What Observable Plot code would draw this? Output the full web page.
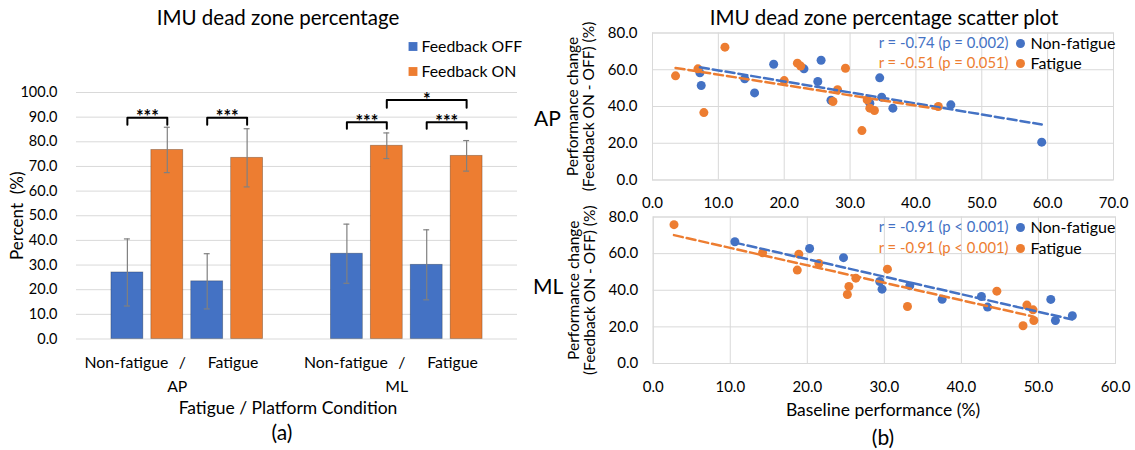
<!DOCTYPE html>
<html><head><meta charset="utf-8">
<script src="https://cdn.jsdelivr.net/npm/d3@7"></script>
<script src="https://cdn.jsdelivr.net/npm/@observablehq/plot@0.6"></script>
<style>
html,body{margin:0;padding:0;background:#fff;}
#root{position:relative;width:1135px;height:450px;overflow:hidden;font-family:Lato,sans-serif;color:#000;background:#fff;}
.abs{position:absolute;}
.lbl{position:absolute;transform:translate(-50%,-50%);white-space:nowrap;line-height:1;font-family:Lato,sans-serif;color:#000;}
</style></head><body><div id="root"></div>
<script>
// ---------- data ----------
const platforms = ["AP", "ML"];
const fatigueLevels = ["Non-fatigue", "Fatigue"];
const feedbackLevels = ["Feedback OFF", "Feedback ON"];
// order: AP NF OFF, AP NF ON, AP F OFF, AP F ON, ML NF OFF, ML NF ON, ML F OFF, ML F ON
const meanPct = [27.0, 76.7, 23.4, 73.5, 34.6, 78.4, 30.1, 74.3];
const sdPct   = [13.6, 9.2, 11.2, 11.8, 12.0, 5.2, 14.2, 6.2];
const yTicksBar = [0, 10, 20, 30, 40, 50, 60, 70, 80, 90, 100];

// significance brackets
const sigLabels   = ["***", "***", "***", "***", "*"];
const sigPlatform = ["AP", "AP", "ML", "ML", "ML"];
const sigFromFat  = ["Non-fatigue", "Fatigue", "Non-fatigue", "Fatigue", "Non-fatigue"];
const sigFromFb   = ["Feedback OFF", "Feedback OFF", "Feedback OFF", "Feedback OFF", "Feedback ON"];
const sigToFat    = ["Non-fatigue", "Fatigue", "Non-fatigue", "Fatigue", "Fatigue"];
const sigToFb     = ["Feedback ON", "Feedback ON", "Feedback ON", "Feedback ON", "Feedback ON"];
const sigTop      = [89.8, 89.8, 87.9, 87.9, 97.0];
const sigLeg      = [86.9, 86.9, 85.3, 85.3, 93.8];

const xLabelWords = ["Non-fatigue", "/", "Fatigue"];

// scatter data
const groups = ["Non-fatigue", "Fatigue"];
const apNfX = [7.2, 7.4, 14.0, 15.5, 18.4, 23.0, 25.1, 25.6, 27.1, 33.0, 34.5, 34.8, 36.5, 45.3, 59.1];
const apNfY = [58.3, 51.4, 55.1, 47.4, 63.0, 60.5, 53.6, 65.2, 43.4, 41.8, 55.6, 45.1, 39.1, 40.9, 20.6];
const apFX  = [3.5, 6.9, 7.8, 11.0, 20.0, 22.0, 22.5, 27.4, 28.1, 29.3, 31.8, 32.6, 33.0, 33.7, 43.4];
const apFY  = [56.7, 60.5, 36.7, 72.3, 54.1, 63.6, 62.0, 42.7, 49.1, 60.8, 26.9, 43.6, 39.1, 37.8, 40.0];
const mlNfX = [10.6, 20.3, 24.7, 29.4, 29.7, 33.3, 37.5, 42.6, 43.4, 51.6, 52.2, 54.4];
const mlNfY = [66.5, 62.8, 57.8, 44.8, 40.6, 42.5, 35.1, 36.6, 30.8, 35.0, 23.5, 26.1];
const mlFX  = [2.7, 14.2, 18.7, 18.9, 21.5, 25.2, 25.4, 26.3, 30.4, 33.0, 44.6, 48.0, 48.5, 49.3, 49.4];
const mlFY  = [75.8, 60.5, 51.0, 59.7, 54.6, 37.7, 42.1, 46.6, 51.5, 31.1, 39.5, 20.6, 31.9, 29.3, 23.5];
const apStats = ["r = -0.74 (p = 0.002)", "r = -0.51 (p = 0.051)"];
const mlStats = ["r = -0.91 (p < 0.001)", "r = -0.91 (p < 0.001)"];
const apXTicks = [0, 10, 20, 30, 40, 50, 60, 70];
const mlXTicks = [0, 10, 20, 30, 40, 50, 60];
const scatterYTicks = [0, 20, 40, 60, 80];

const titleA = "IMU dead zone percentage";
const titleB = "IMU dead zone percentage scatter plot";
const yLabelBar = "Percent  (%)";
const xLabelBar = "Fatigue / Platform Condition";
const yLabelScatter = ["Performance change", "(Feedback ON - OFF) (%)"];
const xLabelScatter = "Baseline performance (%)";

// ---------- styling ----------
const BLUE = "#4472C4", ORANGE = "#ED7D31", GRID = "#d9d9d9", ERR = "#808080";
const root = document.getElementById("root");
const fmt = d3.format(".1f");
function place(el, left, top) {
  const d = document.createElement("div");
  d.className = "abs"; d.style.left = left + "px"; d.style.top = top + "px";
  d.appendChild(el); root.appendChild(d);
}
function label(text, cx, cy, size) {
  const d = document.createElement("div");
  d.className = "lbl"; d.textContent = text;
  d.style.left = cx + "px"; d.style.top = cy + "px"; d.style.fontSize = size + "px";
  root.appendChild(d);
}
const baseStyle = {fontFamily: "Lato, sans-serif", fontSize: "14.5px", color: "#000", background: "transparent", overflow: "visible"};

// ---------- left: bar chart ----------
const keyOf = (f, fb) => f + "|" + fb;
const xKeys = fatigueLevels.flatMap(f => feedbackLevels.map(fb => keyOf(f, fb)));
const barRows = [];
platforms.forEach((p, pi) => fatigueLevels.forEach((f, fi) => feedbackLevels.forEach((fb, bi) => {
  const i = pi * 4 + fi * 2 + bi;
  barRows.push({platform: p, fatigue: f, feedback: fb, key: keyOf(f, fb), mean: meanPct[i], sd: sdPct[i]});
})));
const sigRows = sigLabels.map((lab, i) => {
  const from = keyOf(sigFromFat[i], sigFromFb[i]), to = keyOf(sigToFat[i], sigToFb[i]);
  return {id: i, label: lab, platform: sigPlatform[i], from, to, top: sigTop[i], leg: sigLeg[i],
          span: xKeys.indexOf(to) - xKeys.indexOf(from)};
});
const bracketPts = sigRows.flatMap(r => [
  {id: r.id, platform: r.platform, key: r.from, y: r.leg},
  {id: r.id, platform: r.platform, key: r.from, y: r.top},
  {id: r.id, platform: r.platform, key: r.to, y: r.top},
  {id: r.id, platform: r.platform, key: r.to, y: r.leg}
]);

const W1 = 560, H1 = 450;
const M1 = {marginTop: 92, marginRight: 43, marginBottom: 111.5, marginLeft: 76};

const bg = Plot.plot({
  width: W1, height: H1, ...M1,
  style: baseStyle,
  y: {domain: [0, 100], ticks: yTicksBar, tickFormat: fmt, tickSize: 0, tickPadding: 19, label: null},
  marks: [
    Plot.ruleY(yTicksBar, {stroke: GRID, strokeWidth: 1}),
    Plot.text([yLabelBar], {text: d => d, frameAnchor: "left", textAnchor: "middle", lineAnchor: "middle", rotate: -90, dx: -59, fontSize: 17}),
    // legend
    ...feedbackLevels.map((fb, i) => Plot.dot([fb], {frameAnchor: "top-left", dx: 336.5, dy: -46 + 25 * i, symbol: "square", r: 5, fill: [BLUE, ORANGE][i]})),
    ...feedbackLevels.map((fb, i) => Plot.text([fb], {text: d => d, frameAnchor: "top-left", textAnchor: "start", lineAnchor: "middle", dx: 345, dy: -46 + 25 * i, fontSize: 15.8}))
  ]
});
place(bg, 0, 0);

const fg = Plot.plot({
  width: W1, height: H1, ...M1,
  style: baseStyle,
  fx: {domain: platforms, paddingInner: 0.2727, paddingOuter: 0.1409, axis: null, round: false},
  x: {domain: xKeys, paddingInner: 0.2, paddingOuter: 0.1, axis: null, round: false},
  y: {domain: [0, 100], axis: null},
  color: {domain: feedbackLevels, range: [BLUE, ORANGE]},
  marks: [
    Plot.barY(barRows, {fx: "platform", x: "key", y: "mean", fill: "feedback", stroke: "#000", strokeOpacity: 0.3, strokeWidth: 0.8}),
    Plot.ruleX(barRows, {fx: "platform", x: "key", y1: d => d.mean - d.sd, y2: d => d.mean + d.sd, stroke: ERR, strokeWidth: 1.2}),
    Plot.tickY(barRows, {fx: "platform", x: "key", y: d => d.mean + d.sd, stroke: ERR, strokeWidth: 1.2, insetLeft: 13, insetRight: 13}),
    Plot.tickY(barRows, {fx: "platform", x: "key", y: d => d.mean - d.sd, stroke: ERR, strokeWidth: 1.2, insetLeft: 13, insetRight: 13}),
    Plot.line(bracketPts, {fx: "platform", x: "key", y: "y", z: "id", stroke: "#000", strokeWidth: 2}),
    ...sigRows.map(r => Plot.text([r], {fx: "platform", x: "from", y: "top", text: "label", dx: r.span * 20, lineAnchor: "middle", fontSize: 18, fontWeight: "bold"})),
    // category labels
    Plot.text(platforms, {fx: d => d, x: () => keyOf("Non-fatigue", "Feedback OFF"), text: () => xLabelWords[0], frameAnchor: "bottom", textAnchor: "middle", lineAnchor: "top", dy: 18, dx: -1, fontSize: 15.8}),
    Plot.text(platforms, {fx: d => d, x: () => keyOf("Non-fatigue", "Feedback ON"), text: () => xLabelWords[1], frameAnchor: "bottom", textAnchor: "middle", lineAnchor: "top", dy: 18, dx: 15, fontSize: 15.8}),
    Plot.text(platforms, {fx: d => d, x: () => keyOf("Fatigue", "Feedback ON"), text: () => xLabelWords[2], frameAnchor: "bottom", textAnchor: "middle", lineAnchor: "top", dy: 18, dx: -14, fontSize: 15.8}),
    Plot.text(platforms, {fx: d => d, text: d => d, frameAnchor: "bottom", textAnchor: "middle", lineAnchor: "top", dy: 42, dx: -10, fontSize: 15.8})
  ]
});
place(fg, 0, 0);

label(titleA, 278, 17, 20.5);
label(xLabelBar, 288, 408, 17.5);
label("(a)", 282, 431, 21);

// ---------- right: scatter plots ----------
function scatterPlot(o) {
  const rows = groups.flatMap((g, gi) => o.xs[gi].map((x, i) => ({group: g, x, y: o.ys[gi][i]})));
  const cols = [BLUE, ORANGE];
  return Plot.plot({
    width: 615, height: o.height,
    marginTop: o.mt, marginBottom: o.mb, marginLeft: o.ml, marginRight: o.mr,
    style: {...baseStyle, fontSize: "15px"},
    x: {domain: [o.xTicks[0], o.xTicks[o.xTicks.length - 1]], ticks: o.xTicks, tickFormat: fmt, tickSize: 0, tickPadding: o.xPad, label: null},
    y: {domain: [0, 80], ticks: scatterYTicks, tickFormat: fmt, tickSize: 0, tickPadding: 15, label: null},
    color: {domain: groups, range: cols},
    marks: [
      Plot.ruleX(o.xTicks, {stroke: GRID}),
      Plot.ruleY(scatterYTicks, {stroke: GRID}),
      Plot.frame({stroke: GRID}),
      Plot.dot(rows, {x: "x", y: "y", fill: "group", r: 4.5}),
      Plot.linearRegressionY(rows, {x: "x", y: "y", stroke: "group", ci: 0, strokeWidth: 2.5, strokeDasharray: "9,4"}),
      ...groups.flatMap((g, i) => [
        Plot.text([o.stats[i]], {text: d => d, frameAnchor: "top-right", textAnchor: "end", lineAnchor: "middle", dx: o.lx, dy: o.ly[i], fill: cols[i], fontSize: 14.8}),
        Plot.dot([g], {frameAnchor: "top-right", dx: o.lx + 12, dy: o.ly[i], r: 4.5, fill: cols[i]}),
        Plot.text([g], {text: d => d, frameAnchor: "top-right", textAnchor: "start", lineAnchor: "middle", dx: o.lx + 22, dy: o.ly[i], fill: "#000", fontSize: 16}),
      ]),
      Plot.text([o.side], {text: d => d, frameAnchor: "left", textAnchor: "middle", lineAnchor: "middle", dx: -105, dy: o.sideDy, fontSize: 21}),
      Plot.text([yLabelScatter[0]], {text: d => d, frameAnchor: "left", textAnchor: "middle", lineAnchor: "middle", rotate: -90, dx: -79, fontSize: 15.5}),
      Plot.text([yLabelScatter[1]], {text: d => d, frameAnchor: "left", textAnchor: "middle", lineAnchor: "middle", rotate: -90, dx: -63.5, fontSize: 15.5})
    ]
  });
}

const ap = scatterPlot({xs: [apNfX, apFX], ys: [apNfY, apFY], xTicks: apXTicks, stats: apStats, side: "AP",
  height: 215, mt: 32.5, mb: 35.5, ml: 132, mr: 22, xPad: 17, lx: -105, ly: [10.5, 30.5], sideDy: 13});
place(ap, 520, 0);
const ml = scatterPlot({xs: [mlNfX, mlFX], ys: [mlNfY, mlFY], xTicks: mlXTicks, stats: mlStats, side: "ML",
  height: 200, mt: 26.5, mb: 27, ml: 132.7, mr: 20, xPad: 18, lx: -107, ly: [10.5, 31.5], sideDy: -3});
place(ml, 520, 190);

label(titleB, 884, 17, 20.5);
label(xLabelScatter, 883, 410, 17.5);
label("(b)", 883, 436, 21);
</script></body></html>
